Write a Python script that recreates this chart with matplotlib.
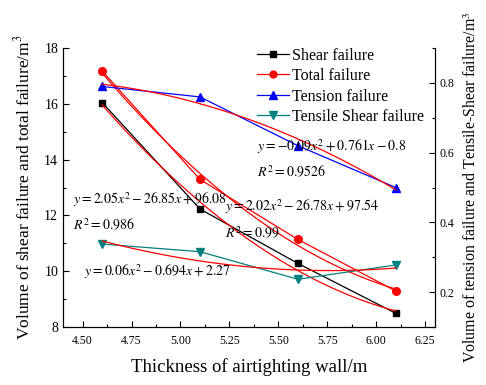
import numpy as np
import matplotlib
matplotlib.use('Agg')
import matplotlib.pyplot as plt
from matplotlib.ticker import MultipleLocator

plt.rcParams['font.family'] = ['Liberation Serif', 'DejaVu Serif']
plt.rcParams['mathtext.fontset'] = 'stix'

# data
thickness = [4.6, 5.1, 5.6, 6.1]
shear = [16.05, 12.23, 10.28, 8.49]
total = [17.18, 13.29, 11.14, 9.29]
tension = [0.79, 0.76, 0.62, 0.50]
tensile_shear = [0.338, 0.316, 0.237, 0.278]

eq_tension = r'$y=-0.09x^2+0.761x-0.8$'
r2_tension = r'$R^2=0.9526$'
eq_shear = r'$y=2.05x^2-26.85x+96.08$'
r2_shear = r'$R^2=0.986$'
eq_total = r'$y=2.02x^2-26.78x+97.54$'
r2_total = r'$R^2=0.99$'
eq_tshear = r'$y=0.06x^2-0.694x+2.27$'


def quad_fit(x, y):
    c = np.polyfit(x, y, 2)
    xs = np.linspace(min(x), max(x), 100)
    return xs, np.polyval(c, xs)


fig = plt.figure(figsize=(4.86, 3.85), dpi=100)
ax = fig.add_axes([0.1296, 0.1506, 0.7654, 0.7244])
ax2 = ax.twinx()

l1, = ax.plot(thickness, shear, color='black', marker='s', ms=4.5, lw=0.9, label='Shear failure')
l2, = ax.plot(thickness, total, color='red', marker='o', ms=5.5, lw=0.9, label='Total failure')
l3, = ax2.plot(thickness, tension, color='blue', marker='^', ms=6, lw=0.9, label='Tension failure')
l4, = ax2.plot(thickness, tensile_shear, color='#008080', marker='v', ms=6, lw=0.9,
               label='Tensile Shear failure')

for x, y in [(thickness, shear), (thickness, total)]:
    xs, ys = quad_fit(x, y)
    ax.plot(xs, ys, color='red', lw=0.9)
for x, y in [(thickness, tension), (thickness, tensile_shear)]:
    xs, ys = quad_fit(x, y)
    ax2.plot(xs, ys, color='red', lw=0.9)

ax.set_xlim(4.4, 6.3)
ax.set_ylim(8, 18)
ax2.set_ylim(0.1, 0.9)
ax.xaxis.set_major_locator(MultipleLocator(0.25))
ax.xaxis.set_minor_locator(MultipleLocator(0.125))
ax.yaxis.set_major_locator(MultipleLocator(2))
ax.yaxis.set_minor_locator(MultipleLocator(1))
ax2.yaxis.set_minor_locator(MultipleLocator(0.1))
ax2.set_yticks([0.2, 0.4, 0.6, 0.8])
ax.xaxis.set_major_formatter(plt.FormatStrFormatter('%.2f'))

for a in (ax, ax2):
    a.spines['top'].set_visible(False)
    a.tick_params(which='major', direction='in', length=4, width=0.8)
    a.tick_params(which='minor', direction='in', length=2, width=0.8)
ax.tick_params(axis='y', labelsize=10)
ax.tick_params(axis='x', labelsize=8.5, pad=6)
ax2.tick_params(axis='y', labelsize=8.5)

ax.set_xlabel('Thickness of airtighting wall/m', fontsize=13.5, labelpad=8)
ax.set_ylabel('Volume of shear failure and total failure/m$^3$', fontsize=12.5, labelpad=8)
ax2.set_ylabel('Volume of tension failure and Tensile-Shear failure/m$^3$', fontsize=11.4, labelpad=6)

fig.legend(handles=[l1, l2, l3, l4], loc='upper left', bbox_to_anchor=(0.515, 0.893),
           frameon=False, fontsize=11.5, handlelength=2.0, handletextpad=0.2,
           labelspacing=0.28, borderaxespad=0, markerscale=0.9)

fs = 10
fig.text(257 / 486, 1 - 147 / 385, eq_tension, fontsize=fs, va='center')
fig.text(257 / 486, 1 - 172 / 385, r2_tension, fontsize=fs, va='center')
fig.text(73 / 486, 1 - 200 / 385, eq_shear, fontsize=fs, va='center')
fig.text(73 / 486, 1 - 225 / 385, r2_shear, fontsize=fs, va='center')
fig.text(225 / 486, 1 - 207 / 385, eq_total, fontsize=fs, va='center')
fig.text(225 / 486, 1 - 233 / 385, r2_total, fontsize=fs, va='center')
fig.text(84 / 486, 1 - 272 / 385, eq_tshear, fontsize=fs, va='center')

fig.savefig('out.png', dpi=100)
